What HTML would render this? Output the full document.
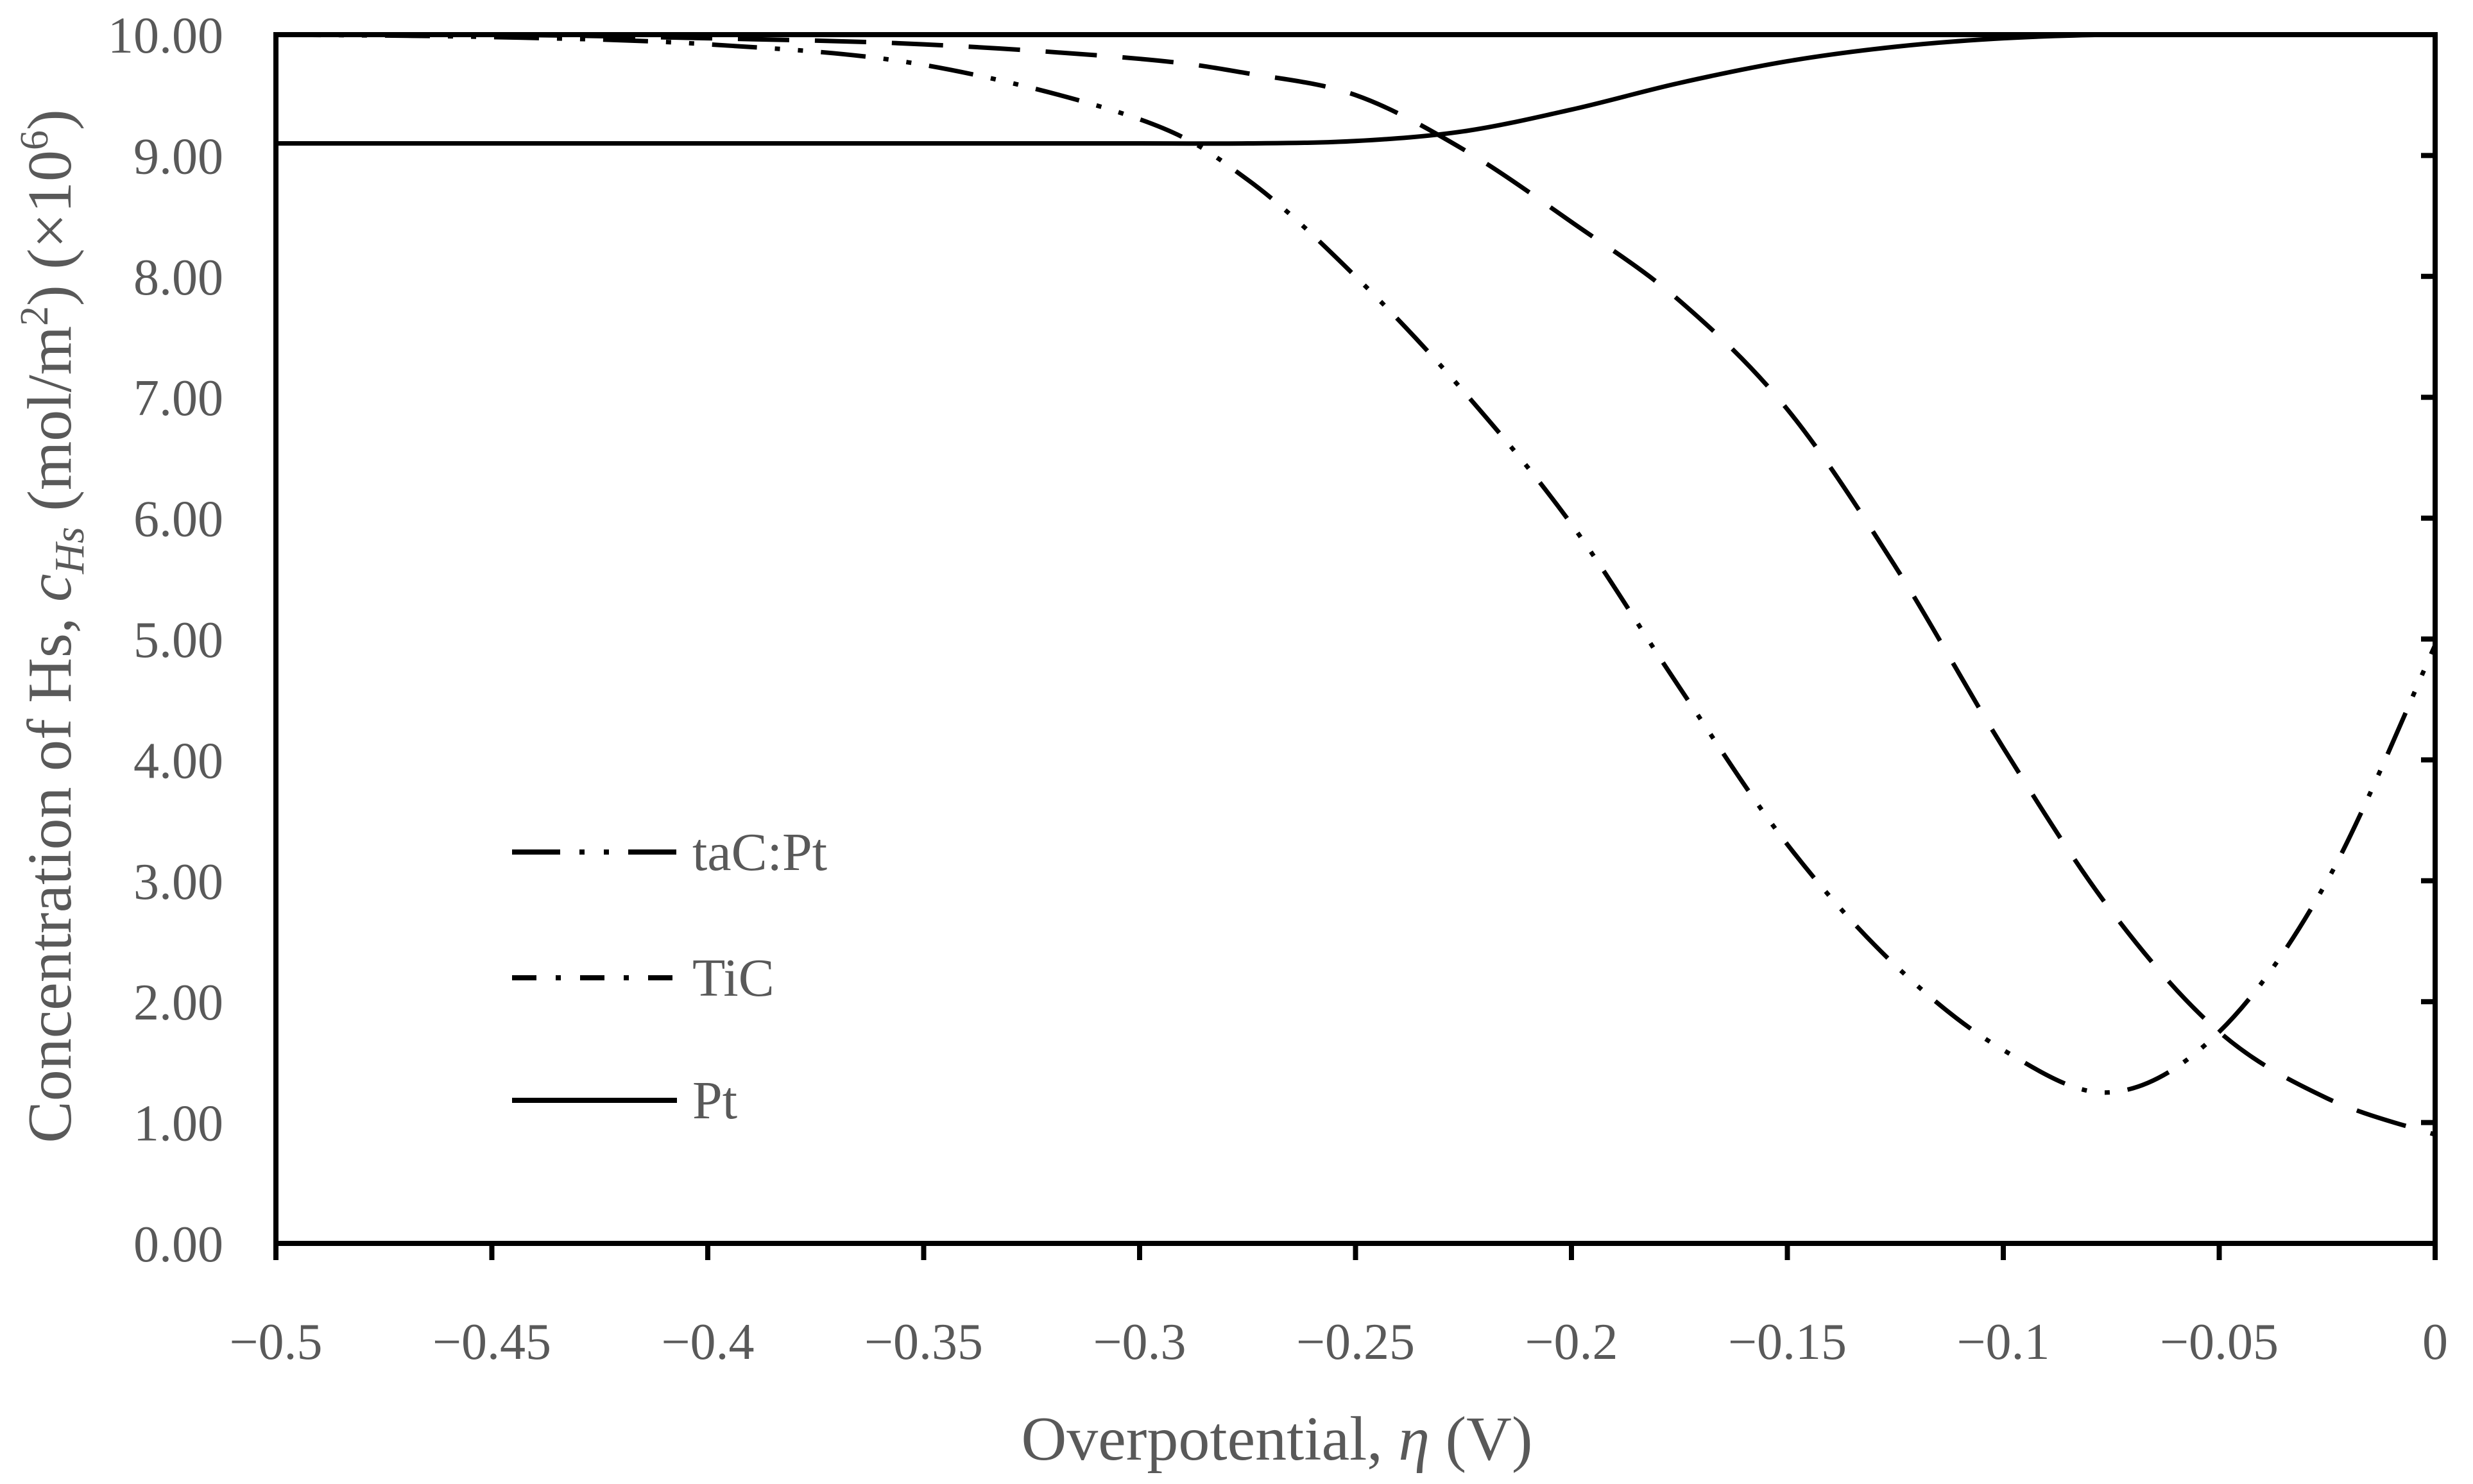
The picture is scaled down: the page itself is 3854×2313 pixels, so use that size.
<!DOCTYPE html>
<html><head><meta charset="utf-8">
<style>
html,body{margin:0;padding:0;background:#fff;}
svg{display:block;}
text{font-family:"Liberation Serif","DejaVu Serif",serif;fill:#595959;}
</style></head>
<body>
<svg id="chart" width="3854" height="2313" viewBox="0 0 3854 2313" xmlns="http://www.w3.org/2000/svg">
<g id="series"></g>
<g id="axes"></g>
<text x="1990" y="2275" font-size="98" text-anchor="middle">Overpotential, <tspan font-style="italic">η</tspan> (V)</text>
<text transform="translate(110,976) rotate(-90)" font-size="98" text-anchor="middle">Concentration of Hs, <tspan font-style="italic">c</tspan><tspan font-style="italic" font-size="66" dy="20">Hs</tspan><tspan dy="-20"> (mol/m</tspan><tspan font-size="62" dy="-36">2</tspan><tspan dy="36">) (×10</tspan><tspan font-size="62" dy="-36">6</tspan><tspan dy="36">)</tspan></text>
<g>
  <line x1="798" y1="1328" x2="1055" y2="1328" stroke="#000" stroke-width="8" stroke-dasharray="75,30,8,30,8,30"/>
  <text x="1079" y="1356" font-size="84">taC:Pt</text>
  <line x1="798" y1="1524" x2="1055" y2="1524" stroke="#000" stroke-width="8" stroke-dasharray="38,30,8,30"/>
  <text x="1079" y="1552" font-size="84">TiC</text>
  <line x1="798" y1="1715" x2="1055" y2="1715" stroke="#000" stroke-width="8"/>
  <text x="1079" y="1743" font-size="84">Pt</text>
</g>
</svg>
<script>
const xTicks = [-0.5,-0.45,-0.4,-0.35,-0.3,-0.25,-0.2,-0.15,-0.1,-0.05,0];
const xTickLabels = ["\u22120.5","\u22120.45","\u22120.4","\u22120.35","\u22120.3","\u22120.25","\u22120.2","\u22120.15","\u22120.1","\u22120.05","0"];
const yTicks = [0,1,2,3,4,5,6,7,8,9,10];
const yTickLabels = ["0.00","1.00","2.00","3.00","4.00","5.00","6.00","7.00","8.00","9.00","10.00"];
const etaValues = [-0.5,-0.45,-0.4,-0.35,-0.3,-0.275,-0.25,-0.225,-0.2,-0.175,-0.15,-0.125,-0.1,-0.075,-0.05,-0.025,0];
const tacptValues = [10.0,9.98,9.92,9.75,9.3,8.8,8.0,7.05,5.95,4.6,3.3,2.3,1.6,1.25,1.75,3.0,4.95];
const ticValues = [10.0,10.0,9.97,9.92,9.8,9.68,9.5,9.05,8.45,7.8,6.9,5.6,4.1,2.75,1.75,1.2,0.9];
const ptValues = [9.1,9.1,9.1,9.1,9.1,9.1,9.12,9.2,9.38,9.6,9.78,9.9,9.97,10.0,10.0,10.0,10.0];

const X0=430, X1=3795, Y0=1938, Y1=54;
function xs(v){return X0+(v+0.5)/0.5*(X1-X0);}
function ys(v){return Y0-v/10*(Y0-Y1);}
const NS="http://www.w3.org/2000/svg";
function mk(tag,attrs,parent){const e=document.createElementNS(NS,tag);for(const k in attrs)e.setAttribute(k,attrs[k]);parent.appendChild(e);return e;}
function smooth(xa,ya){
  const p=xa.map((x,i)=>[xs(x),ys(ya[i])]);
  let d="M"+p[0][0]+","+p[0][1];
  for(let i=0;i<p.length-1;i++){
    const a=p[Math.max(0,i-1)],b=p[i],c=p[i+1],e=p[Math.min(p.length-1,i+2)];
    const c1=[b[0]+(c[0]-a[0])/6,b[1]+(c[1]-a[1])/6];
    const c2=[c[0]-(e[0]-b[0])/6,c[1]-(e[1]-b[1])/6];
    d+=" C"+c1[0]+","+c1[1]+" "+c2[0]+","+c2[1]+" "+c[0]+","+c[1];
  }
  return d;
}
const sg=document.getElementById('series');
const s1=mk('path',{d:smooth(etaValues,tacptValues),fill:'none',stroke:'#000','stroke-width':7,'stroke-dasharray':'70,28,8,28,8,28'},sg);


const s2=mk('path',{d:smooth(etaValues,ticValues),fill:'none',stroke:'#000','stroke-width':7,'stroke-dasharray':'80,40'},sg);


const s3=mk('path',{d:smooth(etaValues,ptValues),fill:'none',stroke:'#000','stroke-width':7},sg);



const ag=document.getElementById('axes');
const frame=mk('rect',{x:X0,y:Y1,width:X1-X0,height:Y0-Y1,fill:'none',stroke:'#000','stroke-width':8},ag);


xTicks.forEach((v,i)=>{
  const t=mk('line',{x1:xs(v),y1:Y0,x2:xs(v),y2:Y0+26,stroke:'#000','stroke-width':8},ag);
  
  
  const l=mk('text',{x:xs(v),y:2118,'font-size':80,'text-anchor':'middle'},ag);
  l.textContent=xTickLabels[i];
  
  
});
yTicks.forEach((v,i)=>{
  const t=mk('line',{x1:X1-22,y1:ys(v),x2:X1,y2:ys(v),stroke:'#000','stroke-width':8},ag);
  
  
  const l=mk('text',{x:348,y:ys(v)+28,'font-size':80,'text-anchor':'end'},ag);
  l.textContent=yTickLabels[i];
  
  
});
</script>
</body></html>
